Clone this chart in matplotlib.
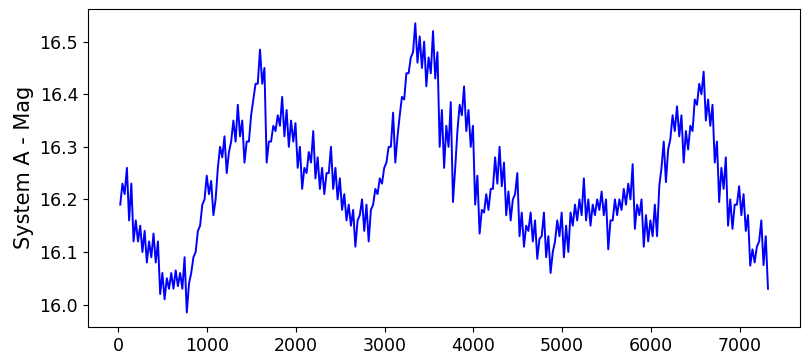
import numpy as np
import matplotlib
matplotlib.use("Agg")
import matplotlib.pyplot as plt

# light curve: per 50-day bin a low and a high value,
# listed alternately so the trace keeps its jagged look
mag = [
    16.19, 16.23, 16.21, 16.26, 16.16, 16.23, 16.12, 16.16,   # 0
    16.12, 16.15, 16.10, 16.14, 16.08, 16.12, 16.09, 16.135,  # 200
    16.08, 16.12, 16.02, 16.06, 16.01, 16.05, 16.03, 16.06,   # 400
    16.03, 16.065, 16.035, 16.06, 16.03, 16.09, 15.985, 16.04,  # 600
    16.06, 16.09, 16.10, 16.14, 16.15, 16.19, 16.20, 16.245,  # 800
    16.21, 16.235, 16.17, 16.20, 16.26, 16.30, 16.28, 16.32,  # 1000
    16.25, 16.29, 16.31, 16.35, 16.31, 16.38, 16.32, 16.35,   # 1200
    16.27, 16.31, 16.31, 16.36, 16.39, 16.42, 16.42, 16.485,  # 1400
    16.42, 16.45, 16.27, 16.31, 16.31, 16.34, 16.33, 16.36,   # 1600
    16.34, 16.395, 16.32, 16.37, 16.30, 16.35, 16.31, 16.345,  # 1800
    16.26, 16.30, 16.22, 16.26, 16.25, 16.29, 16.27, 16.33,   # 2000
    16.24, 16.28, 16.22, 16.26, 16.21, 16.25, 16.25, 16.30,   # 2200
    16.22, 16.26, 16.20, 16.24, 16.18, 16.21, 16.16, 16.19,   # 2400
    16.15, 16.18, 16.11, 16.16, 16.17, 16.20, 16.14, 16.19,   # 2600
    16.12, 16.18, 16.19, 16.22, 16.21, 16.24, 16.23, 16.26,   # 2800
    16.27, 16.30, 16.30, 16.365, 16.27, 16.32, 16.36, 16.395,  # 3000
    16.39, 16.44, 16.44, 16.47, 16.48, 16.535, 16.46, 16.51,  # 3200
    16.45, 16.50, 16.415, 16.47, 16.44, 16.52, 16.43, 16.48,  # 3400
    16.30, 16.37, 16.26, 16.34, 16.30, 16.385, 16.195, 16.26,  # 3600
    16.33, 16.38, 16.36, 16.415, 16.33, 16.37, 16.30, 16.34,  # 3800
    16.19, 16.245, 16.135, 16.18, 16.175, 16.21, 16.18, 16.22,  # 4000
    16.22, 16.28, 16.23, 16.30, 16.225, 16.27, 16.17, 16.215,  # 4200
    16.16, 16.20, 16.21, 16.25, 16.13, 16.175, 16.11, 16.15,  # 4400
    16.14, 16.175, 16.12, 16.16, 16.087, 16.125, 16.13, 16.175,  # 4600
    16.09, 16.13, 16.06, 16.10, 16.12, 16.16, 16.13, 16.175,  # 4800
    16.09, 16.15, 16.10, 16.175, 16.15, 16.19, 16.16, 16.20,  # 5000
    16.17, 16.24, 16.16, 16.20, 16.15, 16.19, 16.17, 16.20,   # 5200
    16.18, 16.215, 16.17, 16.20, 16.105, 16.16, 16.16, 16.20,  # 5400
    16.17, 16.20, 16.18, 16.22, 16.19, 16.23, 16.20, 16.267,  # 5600
    16.144, 16.19, 16.17, 16.20, 16.11, 16.17, 16.12, 16.16,  # 5800
    16.13, 16.19, 16.13, 16.225, 16.26, 16.31, 16.233, 16.295,  # 6000
    16.315, 16.36, 16.33, 16.377, 16.32, 16.36, 16.27, 16.33,  # 6200
    16.295, 16.34, 16.33, 16.39, 16.38, 16.42, 16.40, 16.443,  # 6400
    16.35, 16.39, 16.34, 16.38, 16.27, 16.31, 16.195, 16.26,  # 6600
    16.22, 16.28, 16.15, 16.20, 16.144, 16.19, 16.19, 16.225,  # 6800
    16.17, 16.21, 16.14, 16.17, 16.074, 16.105, 16.08, 16.11,  # 7000
    16.12, 16.16, 16.075, 16.13, 16.03,                        # 7200
]
t_start = 20
t_step = 25
days = t_start + t_step * np.arange(len(mag))

fig = plt.figure(figsize=(8.06, 3.53), dpi=100)
ax = fig.add_axes([0.109, 0.074, 0.884, 0.901])
ax.plot(days, mag, color="#0000ff", linewidth=1.4)

ax.set_ylabel("System A - Mag", fontsize=15)
ax.set_xticks([0, 1000, 2000, 3000, 4000, 5000, 6000, 7000])
ax.set_yticks([16.0, 16.1, 16.2, 16.3, 16.4, 16.5])
ax.tick_params(labelsize=12.5)

fig.savefig("out.png", dpi=100)
